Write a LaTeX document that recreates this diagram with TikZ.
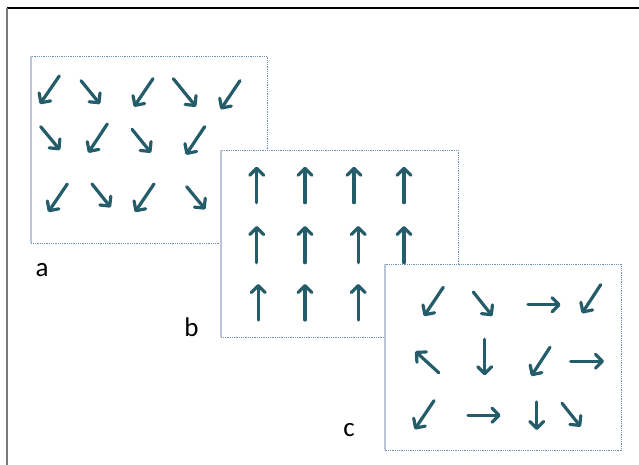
\documentclass[tikz,border=0pt]{standalone}
\usepackage{fontspec}
\setmainfont{Carlito}
\usetikzlibrary{arrows.meta}
\definecolor{teal}{RGB}{36,92,106}
\definecolor{boxdot}{RGB}{120,140,180}
\definecolor{boxleft}{RGB}{185,198,215}
\definecolor{framegray}{RGB}{120,120,120}
\tikzset{
  vec/.style={draw=teal, line width=3.2pt, line cap=round,
    -{Straight Barb[length=7pt,width=14pt,line cap=round,line join=round]}},
  panel/.style={fill=white, draw=boxdot, line width=0.9pt, dash pattern=on 1pt off 0.8pt},
  panelleft/.style={draw=boxleft, line width=1.4pt},
  lab/.style={font=\fontsize{27}{29}\selectfont, text=black, inner sep=0pt}
}
\begin{document}
\begin{tikzpicture}[x=1pt,y=-1pt]
\useasboundingbox (0,0) rectangle (639,465);
\fill[white] (0,0) rectangle (639,465);
% frame
\draw[black, line width=1.6pt] (7,8) -- (639,8);
\draw[framegray, line width=2pt] (7,8) -- (7,465);

% panel a
\draw[panel] (31,56) rectangle (267,243);
\draw[panelleft] (31,56) -- (31,243);
\draw[vec] (59.3,76) -- (40,104);
\draw[vec] (81,80.7) -- (100,104);
\draw[vec] (153,78.7) -- (134,106.7);
\draw[vec] (173.3,78.7) -- (196,106.7);
\draw[vec] (240,80.7) -- (220.7,109.3);
\draw[vec] (40.7,126.7) -- (60,150);
\draw[vec] (107.3,124) -- (88.3,152.7);
\draw[vec] (132,129.3) -- (151,152.7);
\draw[vec] (204.7,126.7) -- (186,154.7);
\draw[vec] (67.3,184) -- (48.3,212);
\draw[vec] (92,184) -- (110.7,207.3);
\draw[vec] (154,184) -- (135,212);
\draw[vec] (186.7,186.7) -- (205.3,209.3);

% panel b
\draw[panel] (221,150) rectangle (458,337);
\draw[panelleft] (221,150) -- (221,337);
\foreach \x in {256.7,305,354,404} { \draw[vec] (\x,202.7) -- (\x,166.7); }
\foreach \x in {256.7,305,358.3,404} { \draw[vec] (\x,262.7) -- (\x,226); }
\foreach \x in {258.3,305,358.3,404} { \draw[vec] (\x,320) -- (\x,284); }

% panel c
\draw[panel] (385,264) rectangle (621,450);
\draw[panelleft] (385,264) -- (385,450);
\draw[vec] (443.3,287.3) -- (424,316);
\draw[vec] (473.3,292) -- (492.3,316);
\draw[vec] (528,304.7) -- (560.7,304.7);
\draw[vec] (600.7,284.7) -- (582,313.3);
\draw[vec] (438.7,372.7) -- (415.3,351.3);
\draw[vec] (484.7,339.3) -- (484.7,375.3);
\draw[vec] (550,347.3) -- (531.3,376);
\draw[vec] (570.7,361.3) -- (604,361.3);
\draw[vec] (434,400.7) -- (414.7,429.3);
\draw[vec] (468,415.3) -- (500.7,415.3);
\draw[vec] (536.7,402) -- (536.7,430);
\draw[vec] (562,403.3) -- (580.7,426.7);

% labels
\node[lab] (la) at (42,270) {a};
\node[lab] (lb) at (191.5,327) {b};
\node[lab] (lc) at (349,430) {c};
\end{tikzpicture}
\end{document}
